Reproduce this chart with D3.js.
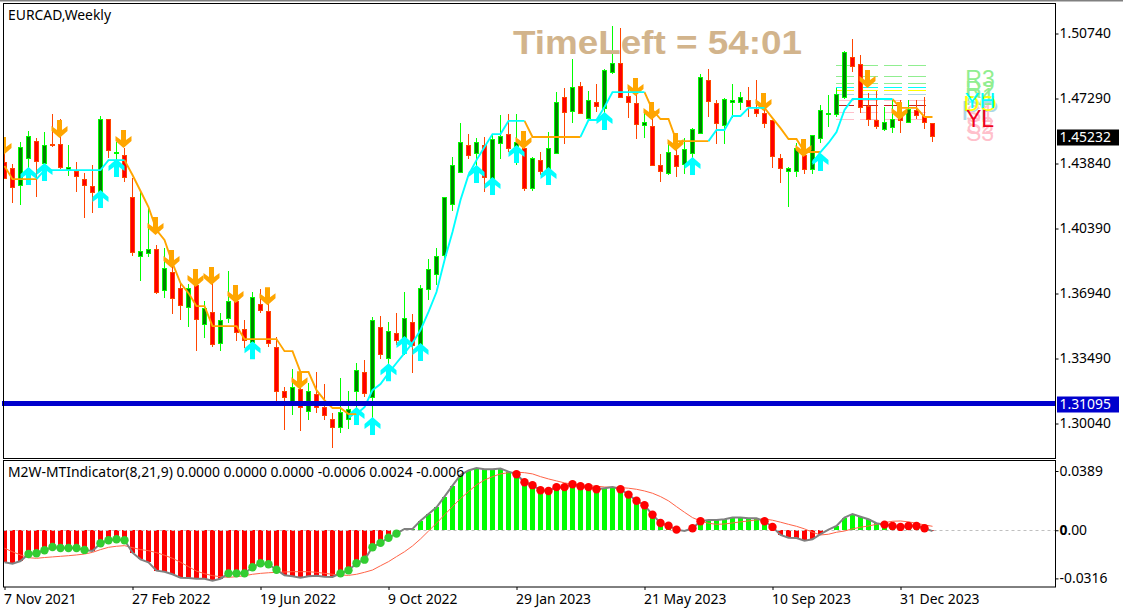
<!DOCTYPE html>
<html>
<head>
<meta charset="utf-8">
<title>EURCAD,Weekly</title>
<script src="https://cdn.jsdelivr.net/npm/d3@7"></script>
<style>
body { margin: 0; background: #fff; }
svg { display: block; }
text { font-family: "Noto Sans", Tahoma, sans-serif; }
</style>
</head>
<body>
<div id="chart"></div>
<script>
// weekly candles, one entry per bar
var opens = [1.4387,1.4355,1.4270,1.4408,1.4503,1.4387,1.4487,1.4487,1.4355,1.4344,1.4301,1.4264,1.4227,1.4615,1.4434,1.4429,1.4206,1.3893,1.3909,1.3930,
1.3712,1.3808,1.3723,1.3622,1.3739,1.3532,1.3595,1.3431,1.3563,1.3654,1.3505,1.3436,1.3638,1.3601,1.3409,1.3176,1.3123,1.3186,1.3070,1.3160,
1.3091,1.3027,1.2985,1.3027,1.3176,1.3277,1.3144,1.3516,1.3351,1.3484,1.3447,1.3542,1.3420,1.3717,1.3797,1.3893,1.4163,1.4339,1.4482,1.4440,
1.4477,1.4301,1.4487,1.4540,1.4456,1.4461,1.4248,1.4402,1.4307,1.4440,1.4732,1.4663,1.4795,1.4625,1.4710,1.4679,1.4870,1.4917,1.4742,1.4700,
1.4588,1.4583,1.4371,1.4333,1.4424,1.4376,1.4434,1.4540,1.4827,1.4705,1.4588,1.4705,1.4705,1.4716,1.4668,1.4647,1.4610,1.4408,1.4344,1.4339,
1.4424,1.4349,1.4514,1.4641,1.4641,1.4732,1.4949,1.4912,1.4684,1.4610,1.4567,1.4578,1.4652,1.4604,1.4663,1.4631,1.4594];
var highs = [1.4525,1.4381,1.4498,1.4556,1.4519,1.4551,1.4647,1.4620,1.4482,1.4392,1.4333,1.4376,1.4636,1.4615,1.4498,1.4466,1.4307,1.4233,1.4153,1.3951,
1.3935,1.3850,1.3749,1.3744,1.3818,1.3654,1.3781,1.3590,1.3813,1.3696,1.3553,1.3702,1.3717,1.3643,1.3463,1.3197,1.3293,1.3277,1.3218,1.3277,
1.3213,1.3059,1.3245,1.3176,1.3324,1.3340,1.3569,1.3574,1.3542,1.3590,1.3702,1.3585,1.3739,1.3877,1.3935,1.4201,1.4418,1.4599,1.4540,1.4519,
1.4525,1.4535,1.4641,1.4647,1.4647,1.4535,1.4418,1.4445,1.4551,1.4763,1.4785,1.4939,1.4817,1.4769,1.4806,1.4886,1.5114,1.5103,1.4790,1.4774,
1.4657,1.4668,1.4434,1.4493,1.4535,1.4519,1.4572,1.4859,1.4886,1.4721,1.4732,1.4806,1.4763,1.4790,1.4827,1.4721,1.4610,1.4434,1.4365,1.4493,
1.4471,1.4535,1.4694,1.4748,1.4785,1.4981,1.5045,1.4960,1.4758,1.4769,1.4684,1.4721,1.4721,1.4721,1.4721,1.4737,1.4599];
var lows = [1.4301,1.4174,1.4163,1.4349,1.4206,1.4323,1.4471,1.4355,1.4317,1.4233,1.4094,1.4121,1.4163,1.4413,1.4349,1.4285,1.3893,1.3760,1.3887,1.3691,
1.3670,1.3585,1.3553,1.3516,1.3388,1.3457,1.3409,1.3388,1.3537,1.3441,1.3404,1.3394,1.3590,1.3409,1.3123,1.2969,1.3048,1.2963,1.3022,1.3059,
1.3022,1.2873,1.2953,1.2974,1.3075,1.3144,1.3022,1.3346,1.3261,1.3420,1.3367,1.3271,1.3340,1.3659,1.3739,1.3866,1.4132,1.4333,1.4408,1.4296,
1.4233,1.4243,1.4408,1.4445,1.4376,1.4238,1.4238,1.4323,1.4270,1.4440,1.4487,1.4599,1.4647,1.4610,1.4657,1.4588,1.4859,1.4737,1.4625,1.4514,
1.4519,1.4376,1.4285,1.4323,1.4312,1.4328,1.4349,1.4540,1.4631,1.4487,1.4487,1.4625,1.4668,1.4631,1.4631,1.4572,1.4360,1.4280,1.4153,1.4312,
1.4328,1.4328,1.4493,1.4578,1.4631,1.4726,1.4870,1.4652,1.4583,1.4567,1.4556,1.4546,1.4546,1.4599,1.4620,1.4567,1.4498];
var closes = [1.4301,1.4254,1.4471,1.4525,1.4397,1.4482,1.4482,1.4365,1.4365,1.4317,1.4270,1.4233,1.4620,1.4450,1.4440,1.4312,1.3914,1.3919,1.3930,1.3702,
1.3829,1.3670,1.3632,1.3723,1.3558,1.3617,1.3425,1.3553,1.3654,1.3489,1.3447,1.3675,1.3606,1.3431,1.3176,1.3144,1.3197,1.3091,1.3176,1.3091,
1.3048,1.2985,1.3064,1.3080,1.3287,1.3165,1.3553,1.3372,1.3494,1.3447,1.3563,1.3420,1.3723,1.3824,1.3893,1.4201,1.4371,1.4498,1.4429,1.4498,
1.4307,1.4514,1.4525,1.4466,1.4493,1.4248,1.4408,1.4344,1.4461,1.4710,1.4652,1.4790,1.4652,1.4721,1.4689,1.4880,1.4917,1.4737,1.4710,1.4588,
1.4604,1.4376,1.4339,1.4445,1.4365,1.4456,1.4562,1.4838,1.4716,1.4599,1.4726,1.4716,1.4732,1.4684,1.4647,1.4594,1.4418,1.4355,1.4360,1.4461,
1.4349,1.4530,1.4663,1.4647,1.4748,1.4971,1.4902,1.4684,1.4615,1.4578,1.4604,1.4620,1.4615,1.4673,1.4636,1.4599,1.4523];

// trend line pieces, first number is the bar the piece starts on
var trendDown = [
	[0, 1.4371,1.4301,1.4301,1.4301,1.4301],
	[15, 1.4402,1.4323,1.4238,1.4153,1.4031,1.3978,1.3855,1.3749,1.3696,1.3627,1.3627,1.3521,1.3521,1.3521,1.3521,1.3452,1.3452,1.3452,1.3452,1.3452,1.3388,1.3388,1.3277,1.3277,1.3181,1.3128,1.3086,1.3086,1.3054,1.3054],
	[65, 1.4610,1.4525,1.4525,1.4525,1.4525,1.4525,1.4525,1.4525],
	[80, 1.4763,1.4668,1.4620,1.4620,1.4503,1.4503,1.4503,1.4503,1.4503],
	[95, 1.4679,1.4625,1.4572,1.4514,1.4514,1.4445,1.4445,1.4445],
	[111, 1.4726,1.4679,1.4679,1.4679,1.4631,1.4631]
];
var trendUp = [
	[4, 1.4301,1.4349,1.4349,1.4349,1.4349,1.4349,1.4349,1.4349,1.4349,1.4402,1.4402,1.4402],
	[44, 1.3054,1.3091,1.3181,1.3213,1.3271,1.3325,1.3378,1.3431,1.3500,1.3596,1.3702,1.3871,1.4020,1.4190,1.4323,1.4402,1.4471,1.4540,1.4540,1.4610,1.4610,1.4610],
	[72, 1.4525,1.4615,1.4615,1.4684,1.4763,1.4763,1.4763,1.4763,1.4763],
	[88, 1.4503,1.4562,1.4562,1.4636,1.4636,1.4679,1.4679,1.4679],
	[101, 1.4387,1.4445,1.4493,1.4551,1.4668,1.4726,1.4726,1.4726,1.4726,1.4726,1.4726]
];

var downArrowBars = [0,7,15,19,21,24,26,29,33,37,65,79,81,84,95,100,108,112];
var downArrowPrices = [1.4429,1.4519,1.4466,1.4004,1.3829,1.3728,1.3739,1.3643,1.3632,1.3186,1.4461,1.4742,1.4615,1.4450,1.4663,1.4418,1.4785,1.4615];
var upArrowBars = [3,5,12,14,31,44,46,48,50,52,59,61,64,68,75,86,102];
var upArrowPrices = [1.4365,1.4387,1.4243,1.4408,1.3441,1.3091,1.3038,1.3324,1.3468,1.3431,1.4376,1.4312,1.4482,1.4365,1.4657,1.4418,1.4440];

// daily pivot levels on the right of the chart
var levelNames = ["R3","R2","R1","PP","S1","S2","S3","DO","YH","YL"];
var levelPrices = [1.4905,1.4847,1.4810,1.4749,1.4716,1.4657,1.4619,1.4773,1.4788,1.4693];
var levelLineColors = ["#90ee90","#90ee90","#90ee90","#add8e6","#ffc0cb","#ffc0cb","#ffc0cb","#ffff00","#00ffff","#c81e1e"];
var levelTextColors = ["#90ee90","#90ee90","#90ee90","#add8e6","#ffc0cb","#ffc0cb","#ffc0cb","#ffff00","#00ffff","#f00020"];
var levelTextSizes = [23,23,23,28,23,23,23,22,22,23];

// indicator pane
var macdValues = [-.0210,-.0219,-.0202,-.0156,-.0151,-.0131,-.0110,-.0116,-.0116,-.0116,-.0129,-.0136,-.0085,-.0066,-.0059,-.0066,-.0147,-.0191,-.0210,-.0265,
-.0272,-.0289,-.0311,-.0313,-.0318,-.0318,-.0331,-.0318,-.0283,-.0283,-.0283,-.0243,-.0217,-.0223,-.0259,-.0296,-.0302,-.0311,-.0302,-.0298,
-.0305,-.0307,-.0283,-.0263,-.0217,-.0193,-.0112,-.0083,-.0049,-.0022,.0009,.0009,.0063,.0107,.0151,.0221,.0293,.0363,.0392,.0409,
.0401,.0401,.0405,.0385,.0368,.0315,.0296,.0263,.0258,.0283,.0283,.0302,.0289,.0283,.0269,.0276,.0284,.0269,.0234,.0194,
.0164,.0102,.0048,.0030,.0004,-.0005,.0013,.0059,.0068,.0068,.0072,.0083,.0083,.0079,.0079,.0059,.0022,-.0031,-.0049,-.0051,
-.0068,-.0059,-.0026,.0004,.0028,.0083,.0107,.0089,.0072,.0046,.0037,.0028,.0022,.0028,.0028,.0013,-.0006];
var signalValues = [-.0118,-.0141,-.0162,-.0180,-.0184,-.0179,-.0175,-.0171,-.0167,-.0162,-.0156,-.0145,-.0127,-.0112,-.0105,-.0101,-.0114,-.0127,-.0134,-.0147,
-.0164,-.0184,-.0210,-.0239,-.0268,-.0285,-.0298,-.0305,-.0309,-.0305,-.0298,-.0289,-.0283,-.0279,-.0276,-.0274,-.0272,-.0272,-.0272,-.0276,
-.0283,-.0289,-.0294,-.0296,-.0289,-.0276,-.0261,-.0233,-.0206,-.0173,-.0141,-.0103,-.0057,-.0005,.0046,.0101,.0155,.0208,.0254,.0298,
.0330,.0352,.0370,.0378,.0381,.0378,.0370,.0352,.0337,.0324,.0311,.0302,.0298,.0293,.0289,.0284,.0283,.0280,.0276,.0269,
.0258,.0243,.0221,.0193,.0155,.0118,.0083,.0061,.0046,.0039,.0041,.0048,.0055,.0061,.0068,.0074,.0066,.0053,.0039,.0026,
.0009,-.0013,-.0031,-.0026,-.0013,-.0005,.0009,.0020,.0028,.0039,.0050,.0059,.0061,.0055,.0046,.0035,.0026];
var greenDotBars = [3,4,5,6,7,8,9,10,12,13,14,15,28,29,30,31,32,33,34,42,43,44,45,46,47,48,49];
var redDotBars = [64,65,66,67,68,69,70,71,72,73,74,77,78,79,80,81,82,83,84,86,87,95,96,110,111,112,113,114,115];

var priceTicks = [1.5074,1.4729,1.4384,1.4039,1.3694,1.3349,1.3004];
var subTicks = [0.0389,0,-0.0316];
var subTickLabels = ["0.0389","0.00","-0.0316"];
var dateTickBars = [0,16,32,48,64,80,96,112];
var dateTickLabels = ["7 Nov 2021","27 Feb 2022","19 Jun 2022","9 Oct 2022","29 Jan 2023","21 May 2023","10 Sep 2023","31 Dec 2023"];
var supportLevel = 1.31095;
var lastPrice = 1.45232;

var W = 1123, H = 612, frameR = 1055.5, labelSize = "13.9px";

var svg = d3.select("#chart").append("svg").attr("width", W).attr("height", H);

var x = d3.scaleLinear().domain([0, 116]).range([4.5, 932.5]);
var y = d3.scaleLinear().domain([1.5074, 1.3004]).range([33.5, 423.5]);
var ySub = d3.scaleLinear().domain([0.0389, -0.0316]).range([471, 578.4]);

var defs = svg.append("defs");
defs.append("clipPath").attr("id", "clip-main").append("rect").attr("x", 3.5).attr("y", 3.5).attr("width", 1052).attr("height", 455);
defs.append("clipPath").attr("id", "clip-sub").append("rect").attr("x", 3.5).attr("y", 460.5).attr("width", 1052).attr("height", 126.5);

// window top edge of the terminal
svg.append("line").attr("x1", 0).attr("x2", W).attr("y1", 0.5).attr("y2", 0.5).style("stroke", "#808080").style("stroke-width", 2);

var main = svg.append("g").attr("clip-path", "url(#clip-main)");
var sub = svg.append("g").attr("clip-path", "url(#clip-sub)");

function snap(v) { return Math.round(v - 0.5) + 0.5; }

// pivot lines, behind the candles
main.append("g").selectAll("line").data(levelPrices).enter().append("line")
	.attr("x1", x(104) - 0.5)
	.attr("x2", x(115.2))
	.attr("y1", function(d) { return snap(y(d)); })
	.attr("y2", function(d) { return snap(y(d)); })
	.style("stroke", function(d, i) { return levelLineColors[i]; })
	.style("stroke-dasharray", "18,6")
	.style("shape-rendering", "crispEdges");

// candles
var bars = d3.range(opens.length);
var candle = main.append("g").style("shape-rendering", "crispEdges").selectAll("g").data(bars).enter().append("g");
candle.append("line")
	.attr("x1", function(i) { return x(i); })
	.attr("x2", function(i) { return x(i); })
	.attr("y1", function(i) { return y(highs[i]); })
	.attr("y2", function(i) { return y(lows[i]); })
	.style("stroke", function(i) { return closes[i] >= opens[i] ? "#00ff00" : "#ff4500"; });
candle.append("rect")
	.attr("x", function(i) { return x(i) - 2; })
	.attr("width", 4)
	.attr("y", function(i) { return snap(y(Math.max(opens[i], closes[i]))); })
	.attr("height", function(i) { return Math.max(1, Math.round(Math.abs(y(opens[i]) - y(closes[i])))); })
	.style("fill", function(i) { return closes[i] >= opens[i] ? "#008000" : "#ff0000"; })
	.style("stroke", function(i) { return closes[i] >= opens[i] ? "#00ff00" : "#ff4500"; });

// signal arrows, the tip sits on the price
var upArrowPath = "M0,0L8,7L8,12L2.5,8L2.5,18L-2.5,18L-2.5,8L-8,12L-8,7Z";
var downArrowPath = "M0,0L8,-7L8,-12L2.5,-8L2.5,-18L-2.5,-18L-2.5,-8L-8,-12L-8,-7Z";
main.append("g").selectAll("path").data(downArrowBars).enter().append("path")
	.attr("d", downArrowPath)
	.attr("transform", function(d, i) { return "translate(" + (x(d) - 1) + "," + y(downArrowPrices[i]) + ")"; })
	.style("fill", "#ffa500");
main.append("g").selectAll("path").data(upArrowBars).enter().append("path")
	.attr("d", upArrowPath)
	.attr("transform", function(d, i) { return "translate(" + x(d) + "," + y(upArrowPrices[i]) + ")"; })
	.style("fill", "#00ffff");

// trend lines
function pieceLine(piece) {
	return d3.line()
		.x(function(d, i) { return x(piece[0] + i); })
		.y(function(d) { return y(d); })(piece.slice(1));
}
function drawPieces(pieces, color) {
	main.append("g").selectAll("path").data(pieces).enter().append("path")
		.attr("d", pieceLine)
		.style("fill", "none")
		.style("stroke", color)
		.style("stroke-width", 1.9);
}
drawPieces(trendDown, "#ffa500");
drawPieces(trendUp, "#00ffff");

// support line
main.append("line")
	.attr("x1", 0).attr("x2", frameR)
	.attr("y1", y(supportLevel)).attr("y2", y(supportLevel))
	.style("stroke", "#0000cd")
	.style("stroke-width", 5);
svg.append("line")
	.attr("x1", 2).attr("x2", 4)
	.attr("y1", y(supportLevel)).attr("y2", y(supportLevel))
	.style("stroke", "#0000cd")
	.style("stroke-width", 5);

// pivot labels, the text hangs just under its level
svg.append("g").selectAll("text").data(levelNames).enter().append("text")
	.attr("x", 980)
	.attr("y", function(d, i) { return y(levelPrices[i]) + 5 + 0.716 * levelTextSizes[i]; })
	.attr("text-anchor", "middle")
	.style("font-family", "'Liberation Sans', Arial, sans-serif")
	.style("font-size", function(d, i) { return levelTextSizes[i] + "px"; })
	.style("fill", function(d, i) { return levelTextColors[i]; })
	.text(function(d) { return d; });

svg.append("text")
	.attr("x", 513).attr("y", 54)
	.attr("textLength", 289)
	.attr("lengthAdjust", "spacingAndGlyphs")
	.style("font-family", "'Liberation Sans', Arial, sans-serif")
	.style("font-weight", "bold")
	.style("font-size", "33px")
	.style("fill", "#d2b48c")
	.text("TimeLeft = 54:01");

svg.append("text").attr("x", 8).attr("y", 20).style("font-size", labelSize).style("fill", "#000").text("EURCAD,Weekly");

// indicator pane
sub.append("g").style("shape-rendering", "crispEdges").selectAll("rect").data(macdValues).enter().append("rect")
	.attr("x", function(d, i) { return x(i) - 2.5; })
	.attr("width", 5)
	.attr("y", function(d) { return Math.min(ySub(d), ySub(0)); })
	.attr("height", function(d) { return Math.abs(ySub(d) - ySub(0)); })
	.style("fill", function(d) { return d >= 0 ? "#00ff00" : "#ff0000"; });

sub.append("line")
	.attr("x1", 3.5).attr("x2", frameR)
	.attr("y1", snap(ySub(0))).attr("y2", snap(ySub(0)))
	.style("stroke", "#c0c0c0")
	.style("stroke-dasharray", "3,3");

var subLine = d3.line().x(function(d, i) { return x(i); }).y(function(d) { return ySub(d); });
sub.append("path").attr("d", subLine(signalValues)).style("fill", "none").style("stroke", "#ff6347").style("stroke-width", 1);
sub.append("path").attr("d", subLine(macdValues)).style("fill", "none").style("stroke", "#808080").style("stroke-width", 2);

function drawDots(barList, color) {
	sub.append("g").selectAll("circle").data(barList).enter().append("circle")
		.attr("cx", function(d) { return x(d); })
		.attr("cy", function(d) { return ySub(macdValues[d]); })
		.attr("r", 4.2)
		.style("fill", color);
}
drawDots(greenDotBars, "#32cd32");
drawDots(redDotBars, "#ff0000");

svg.append("text").attr("x", 8).attr("y", 477).style("font-size", labelSize).style("fill", "#000")
	.text("M2W-MTIndicator(8,21,9) 0.0000 0.0000 0.0000 -0.0006 0.0024 -0.0006");

// frames
svg.append("rect").attr("x", 3.5).attr("y", 3.5).attr("width", 1052).attr("height", 455).style("fill", "none").style("stroke", "#000");
svg.append("rect").attr("x", 3.5).attr("y", 460.5).attr("width", 1052).attr("height", 126.5).style("fill", "none").style("stroke", "#000");

// axes
var priceAxis = svg.append("g").attr("transform", "translate(" + frameR + ",0)")
	.call(d3.axisRight(y).tickValues(priceTicks).tickFormat(d3.format(".5f")).tickSize(3).tickPadding(1));
var subAxis = svg.append("g").attr("transform", "translate(" + frameR + ",0)")
	.call(d3.axisRight(ySub).tickValues(subTicks).tickFormat(function(d, i) { return subTickLabels[i]; }).tickSize(3).tickPadding(1));
var dateAxis = svg.append("g").attr("transform", "translate(0,587)")
	.call(d3.axisBottom(x).tickValues(dateTickBars).tickFormat(function(d, i) { return dateTickLabels[i]; }).tickSize(3));
[priceAxis, subAxis, dateAxis].forEach(function(a) {
	a.select(".domain").remove();
	a.selectAll("text").style("font-size", labelSize).style("font-family", null).style("fill", "#000");
	a.attr("font-family", null);
});
dateAxis.selectAll("text").attr("text-anchor", "start").attr("x", -1).attr("y", 7);
// the zero label has a heavier first digit in the terminal
subAxis.selectAll("text").filter(function(d) { return d === 0; }).text("")
	.call(function(t) {
		t.append("tspan").style("font-weight", "bold").text("0");
		t.append("tspan").text(".00");
	});

// price boxes
function priceBox(price, fill) {
	var cy = y(price);
	svg.append("rect").attr("x", 1057).attr("width", 62).attr("y", Math.round(cy) - 7.5).attr("height", 16).style("fill", fill);
	svg.append("text").attr("x", 1059.5).attr("y", cy).attr("dy", "0.36em").style("font-size", labelSize).style("fill", "#fff").text(d3.format(".5f")(price));
}
priceBox(supportLevel, "#0000cd");
priceBox(lastPrice, "#000");
</script>
</body>
</html>
